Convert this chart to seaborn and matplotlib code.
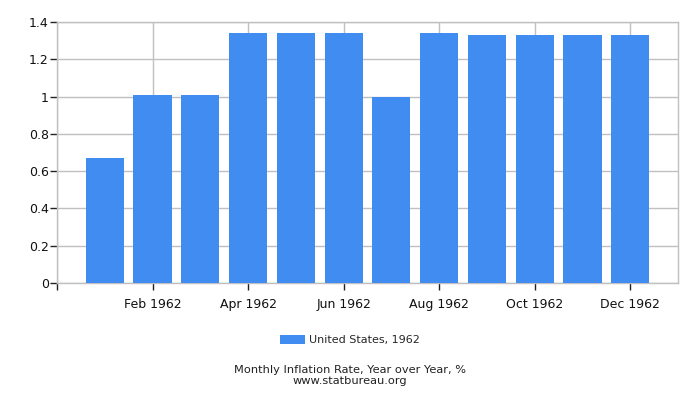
import matplotlib
matplotlib.use("Agg")
import matplotlib.pyplot as plt
import pandas as pd
import seaborn as sns
from matplotlib.ticker import FuncFormatter

sns.set_style("white")
plt.rcParams["font.family"] = ["DejaVu Sans"]

months = ["Jan", "Feb", "Mar", "Apr", "May", "Jun",
          "Jul", "Aug", "Sep", "Oct", "Nov", "Dec"]
rates = [0.67, 1.01, 1.01, 1.34, 1.34, 1.34, 1.00, 1.34, 1.33, 1.33, 1.33, 1.33]
tick_labels = ["", "Feb 1962", "Apr 1962", "Jun 1962", "Aug 1962", "Oct 1962", "Dec 1962"]
y_ticks = [0, 0.2, 0.4, 0.6, 0.8, 1.0, 1.2, 1.4]

BAR_COLOR = "#418cf0"
GRID_COLOR = "#c0c0c0"

df = pd.DataFrame({"month": months, "rate": rates})

fig = plt.figure(figsize=(7, 4), dpi=100)
ax = fig.add_axes([57 / 700, 1 - 283 / 400, (678 - 57) / 700, (283 - 22) / 400])

sns.barplot(data=df, x="month", y="rate", order=months, color=BAR_COLOR,
            saturation=1, width=0.8, linewidth=0, label="United States, 1962",
            ax=ax, zorder=3)
if ax.get_legend() is not None:
    ax.get_legend().remove()

ax.set_xlim(-1, 12)
ax.set_ylim(0, 1.4)
ax.set_xticks([-1, 1, 3, 5, 7, 9, 11])
ax.set_xticklabels(tick_labels)
ax.set_yticks(y_ticks)
ax.yaxis.set_major_formatter(FuncFormatter(lambda v, p: f"{v:g}"))
ax.set_xlabel("")
ax.set_ylabel("")

ax.grid(True, color=GRID_COLOR, linewidth=1, zorder=0)
ax.set_axisbelow(True)
for sp in ax.spines.values():
    sp.set_visible(True)
    sp.set_color(GRID_COLOR)
    sp.set_linewidth(1)
ax.tick_params(axis="both", which="major", length=5, width=1, color="#222222",
               labelsize=9, labelcolor="#111111", direction="out",
               bottom=True, left=True)
ax.tick_params(axis="x", pad=6)
ax.tick_params(axis="y", pad=1)

handles, labels = ax.get_legend_handles_labels()
fig.legend(handles, labels, loc="center", bbox_to_anchor=(0.5, 1 - 340 / 400),
           frameon=False, fontsize=8, handlelength=2.2, handleheight=0.9,
           handletextpad=0.4)

fig.text(0.5, 1 - 370 / 400, "Monthly Inflation Rate, Year over Year, %",
         ha="center", va="center", fontsize=8.2, color="#222222")
fig.text(0.5, 1 - 381.5 / 400, "www.statbureau.org",
         ha="center", va="center", fontsize=8.2, color="#222222")

fig.savefig("out.png", dpi=100)
